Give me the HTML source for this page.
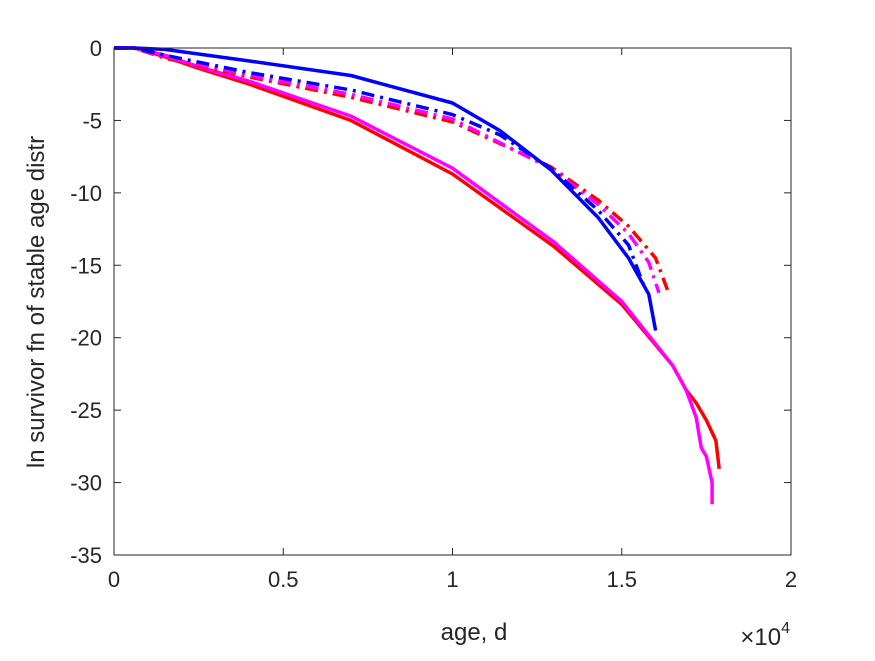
<!DOCTYPE html>
<html><head><meta charset="utf-8"><style>
body{margin:0;background:#fff}
svg text{font-family:"Liberation Sans",Arial,sans-serif;fill:#262626}
</style></head><body>
<svg width="875" height="656" id="chart">
<rect x="0" y="0" width="875" height="656" fill="#fff"/>
<g id="plot"></g>
<g id="axes"></g>
<text x="474" y="640" font-size="24" text-anchor="middle">age, d</text>
<text transform="translate(44,302) rotate(-90)" font-size="24" text-anchor="middle">ln survivor fn of stable age distr</text>
<text x="790" y="645" font-size="24" text-anchor="end">×10<tspan font-size="16" dy="-12">4</tspan></text>
</svg>
<script>
const xTicks=[0,0.5,1,1.5,2];
const xTickLabels=["0","0.5","1","1.5","2"];
const yTicks=[0,-5,-10,-15,-20,-25,-30,-35];
const yTickLabels=["0","-5","-10","-15","-20","-25","-30","-35"];
// x in units of 1000 d
const blueSolidX=[0,0.6,1.5,4,7,10,11.4,12.9,14.3,15.2,15.8,16.0];
const blueSolidY=[0,0,-0.1,-0.9,-1.9,-3.8,-5.7,-8.4,-11.7,-14.5,-17,-19.5];
const blueDashX=[0,0.6,1.5,4,7,10,11.4,12.9,14.3,15.2,15.7];
const blueDashY=[0,0,-0.5,-1.7,-2.9,-4.6,-6,-8.3,-11.2,-13.6,-16.7];
const magDashX=[0,0.6,1.5,4,7,10,12.9,14.3,15.2,15.8,16.1];
const magDashY=[0,0,-0.6,-1.9,-3.2,-4.9,-8.3,-10.8,-12.8,-14.8,-16.9];
const redDashX=[0,0.6,1.5,4,7,10,12.9,14.3,15.2,16.0,16.4];
const redDashY=[0,0,-0.7,-2.0,-3.4,-5.1,-8.2,-10.5,-12.3,-14.5,-17.0];
const redSolidX=[0,0.6,1.5,2.5,4,7,10,13,15,16.5,16.9,17.2,17.5,17.78,17.88];
const redSolidY=[0,0,-0.6,-1.4,-2.5,-5.0,-8.7,-13.7,-17.7,-21.9,-23.6,-24.5,-25.7,-27.1,-29.05];
const magSolidX=[0,0.6,1.5,2.5,4,7,10,13,15,16.5,16.9,17.2,17.35,17.5,17.67,17.67];
const magSolidY=[0,0,-0.5,-1.3,-2.3,-4.7,-8.3,-13.4,-17.5,-21.9,-23.6,-25.5,-27.6,-28.2,-30,-31.5];
const L=114,R=791,T=48,B=555;
const sx=v=>L+(v/20)*(R-L);
const sy=v=>T+(-v/35)*(B-T);
const ns="http://www.w3.org/2000/svg";
const plot=document.getElementById('plot'),axes=document.getElementById('axes');
function mk(tag,attrs,parent){const e=document.createElementNS(ns,tag);for(const k in attrs)e.setAttribute(k,attrs[k]);parent.appendChild(e);return e;}
function line(xs,ys,color,dash,name){
  const d=xs.map((x,i)=>(i?'L':'M')+sx(x).toFixed(1)+','+sy(ys[i]).toFixed(1)).join('');
  const p=mk('path',{d:d,fill:'none',stroke:color,'stroke-width':3.5,'stroke-linejoin':'round'},plot);
  if(dash)p.setAttribute('stroke-dasharray','13,6,3,6');
  
  
}
line(redSolidX,redSolidY,'#ff0000',false,'red-solid-line');
line(magSolidX,magSolidY,'#ff00ff',false,'magenta-solid-line');
line(redDashX,redDashY,'#ff0000',true,'red-dashdot-line');
line(magDashX,magDashY,'#ff00ff',true,'magenta-dashdot-line');
line(blueDashX,blueDashY,'#0000ff',true,'blue-dashdot-line');
line(blueSolidX,blueSolidY,'#0000ff',false,'blue-solid-line');
const box=mk('rect',{x:L,y:T,width:R-L,height:B-T,fill:'none',stroke:'#262626','stroke-width':1},axes);


xTicks.forEach((v,i)=>{
  const x=sx(v*10);
  mk('line',{x1:x,y1:B,x2:x,y2:B-7,stroke:'#262626'},axes);
  mk('line',{x1:x,y1:T,x2:x,y2:T+7,stroke:'#262626'},axes);
  const t=mk('text',{x:x,y:B+32,'font-size':22,'text-anchor':'middle'},axes);
  t.textContent=xTickLabels[i];
  
  
});
yTicks.forEach((v,i)=>{
  const y=sy(v);
  mk('line',{x1:L,y1:y,x2:L+7,y2:y,stroke:'#262626'},axes);
  mk('line',{x1:R,y1:y,x2:R-7,y2:y,stroke:'#262626'},axes);
  const t=mk('text',{x:L-12,y:y+8,'font-size':22,'text-anchor':'end'},axes);
  t.textContent=yTickLabels[i];
  
  
});
</script>
</body></html>
